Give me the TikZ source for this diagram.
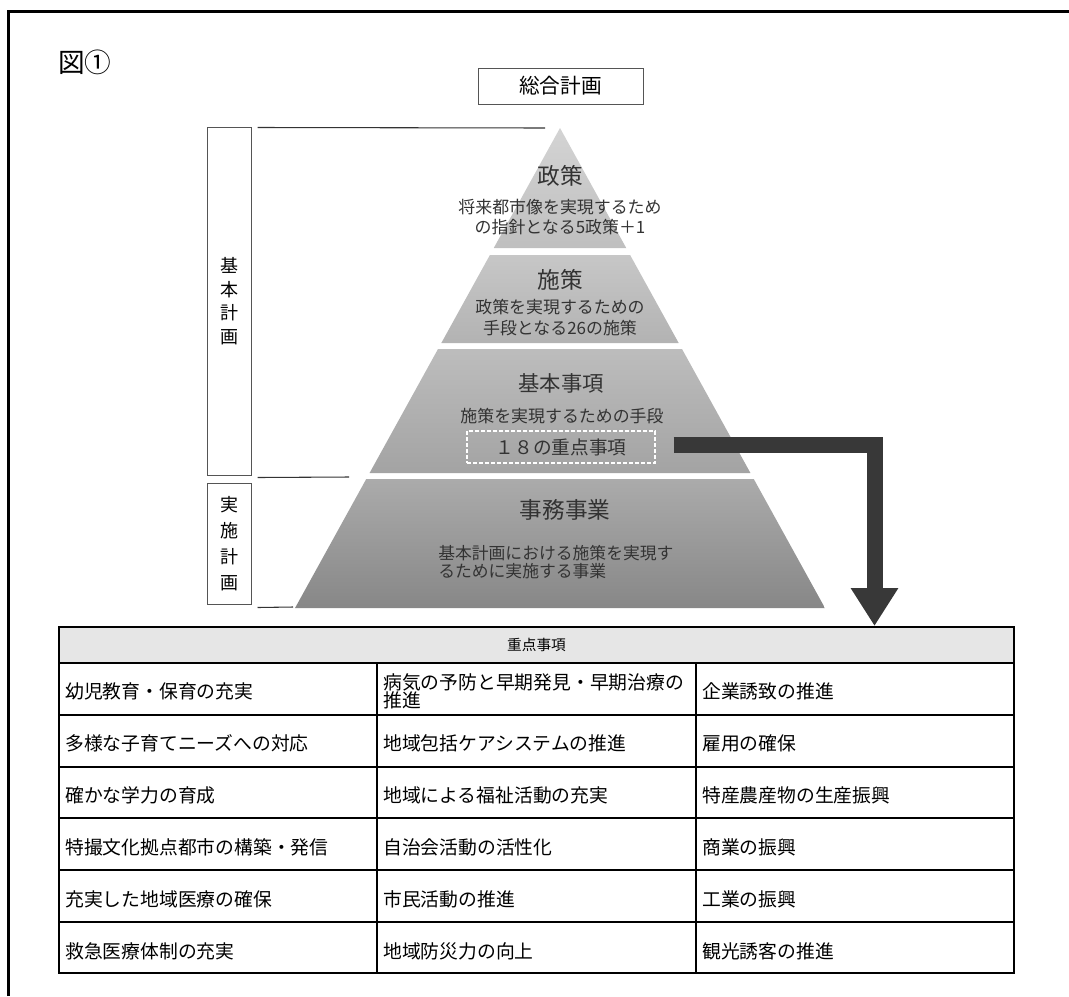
\documentclass[tikz,border=0pt]{standalone}
\usepackage{fontspec}
\setmainfont{Noto Sans CJK JP}
\usetikzlibrary{arrows.meta}
\definecolor{textgray}{HTML}{333333}
\definecolor{headgray}{HTML}{E6E6E6}
\definecolor{arrowgray}{HTML}{383838}
\definecolor{framegray}{HTML}{555555}
\tikzset{
  titletext/.style={font=\fontsize{17}{20}\selectfont, text=textgray, inner sep=0pt},
  subtext/.style={font=\fontsize{12.7}{15}\selectfont, text=textgray, align=center, inner sep=0pt},
  sidebox/.style={draw=framegray, line width=0.75pt, inner sep=0pt, minimum width=33pt, align=center},
  guide/.style={draw=black!80, line width=0.8pt},
  cell/.style={anchor=west, inner sep=0pt, font=\fontsize{14.1}{13.5}\selectfont, align=left},
  rowline/.style={line width=1.5pt},
  colline/.style={line width=1.9pt},
  bigarrow/.style={draw=arrowgray, line width=12pt, -{Triangle[width=33.75pt, length=28.5pt]}}
}
\begin{document}
\begin{tikzpicture}[x=0.75pt, y=-0.75pt]
\useasboundingbox (0,0) rectangle (1069,996);
% frame
\draw[line width=2.25pt] (8,996) -- (8,11) -- (1069,11);
\node[anchor=west, inner sep=0pt, font=\fontsize{20}{24}\selectfont] (fig) at (58,62) {図①};
\node[draw=framegray, line width=0.75pt, minimum width=123.75pt, minimum height=27pt,
      font=\fontsize{15.5}{18}\selectfont] (sogo) at (560.5,86) {総合計画};
% pyramid
\foreach \t/\b/\ca/\cb in {128/248/17/25, 255/343/22/30, 349/473/26/36, 479/608/33/47}
  \shade[top color=black!\ca, bottom color=black!\cb]
    ({560-0.552*(\t-128)},\t) -- ({560+0.552*(\t-128)},\t) -- ({560+0.552*(\b-128)},\b)
    -- ({560-0.552*(\b-128)},\b) -- cycle;
\node[titletext] (seisaku) at (560,176) {政策};
\node[subtext] (seisakuSub) at (560,217.5) {将来都市像を実現するため\\の指針となる5政策＋1};
\node[titletext] (shisaku) at (560,280) {施策};
\node[subtext, font=\fontsize{12.7}{15.75}\selectfont] (shisakuSub) at (560,318) {政策を実現するための\\手段となる26の施策};
\node[titletext, font=\fontsize{16}{20}\selectfont] (kihonJiko) at (561,383) {基本事項};
\node[subtext] (kihonSub) at (562,416.5) {施策を実現するための手段};
\node[draw=white, dashed, dash pattern=on 3pt off 1.5pt, line width=0.9pt, minimum width=141pt,
      minimum height=24pt, text=textgray, font=\fontsize{14}{16}\selectfont] (juten) at (561,447) {１８の重点事項};
\node[titletext] (jimu) at (565,510) {事務事業};
\node[subtext, anchor=west, align=left, font=\fontsize{12.6}{14}\selectfont] (jimuSub) at (438,562) {基本計画における施策を実現す\\るために実施する事業};
% side labels
\node[sidebox, minimum height=261pt, font=\fontsize{13.5}{17.6}\selectfont] (kihonbox) at (229,301) {基\\本\\計\\画};
\node[sidebox, minimum height=90.75pt, font=\fontsize{13.5}{19.5}\selectfont] (jisshibox) at (229,543.5) {実\\施\\計\\画};
\coordinate (apexline) at (545,128);
\coordinate (midline) at (349,477);
\coordinate (basel) at (293,607);
\draw[guide] ([shift={(6,1)}]kihonbox.north east) -- (apexline);
\draw[guide] ([shift={(6,2)}]kihonbox.south east) -- (midline);
\draw[guide] ([shift={(6,3)}]jisshibox.south east) -- (basel);
% table
\draw[line width=1.3pt, fill=headgray] (59,627) rectangle (1014,663);
\node[inner sep=0pt, font=\fontsize{11}{13}\selectfont] (head) at (536.5,645) {重点事項};
\draw[line width=1.3pt] (59,627) rectangle (1014,973);
\foreach \y in {663,715,767,818,870,922}
  \draw[rowline] (59,\y) -- (1014,\y);
\draw[colline] (377,663) -- (377,973);
\draw[colline] (696,663) -- (696,973);
\foreach \r/\a/\b/\c in {
  1/幼児教育・保育の充実/{病気の予防と早期発見・早期治療の\\推進}/企業誘致の推進,
  2/多様な子育てニーズへの対応/地域包括ケアシステムの推進/雇用の確保,
  3/確かな学力の育成/地域による福祉活動の充実/特産農産物の生産振興,
  4/特撮文化拠点都市の構築・発信/自治会活動の活性化/商業の振興,
  5/充実した地域医療の確保/市民活動の推進/工業の振興,
  6/救急医療体制の充実/地域防災力の向上/観光誘客の推進}
{
  \node[cell] (a\r) at (65,{639+52*\r}) {\a};
  \node[cell] (b\r) at (383,{639+52*\r}) {\b};
  \node[cell] (c\r) at (702,{639+52*\r}) {\c};
}
% arrow
\coordinate (arrowtip) at (874.5,626);
\draw[bigarrow] ([shift={(18,-2)}]juten.east) -| (arrowtip);
\end{tikzpicture}
\end{document}
